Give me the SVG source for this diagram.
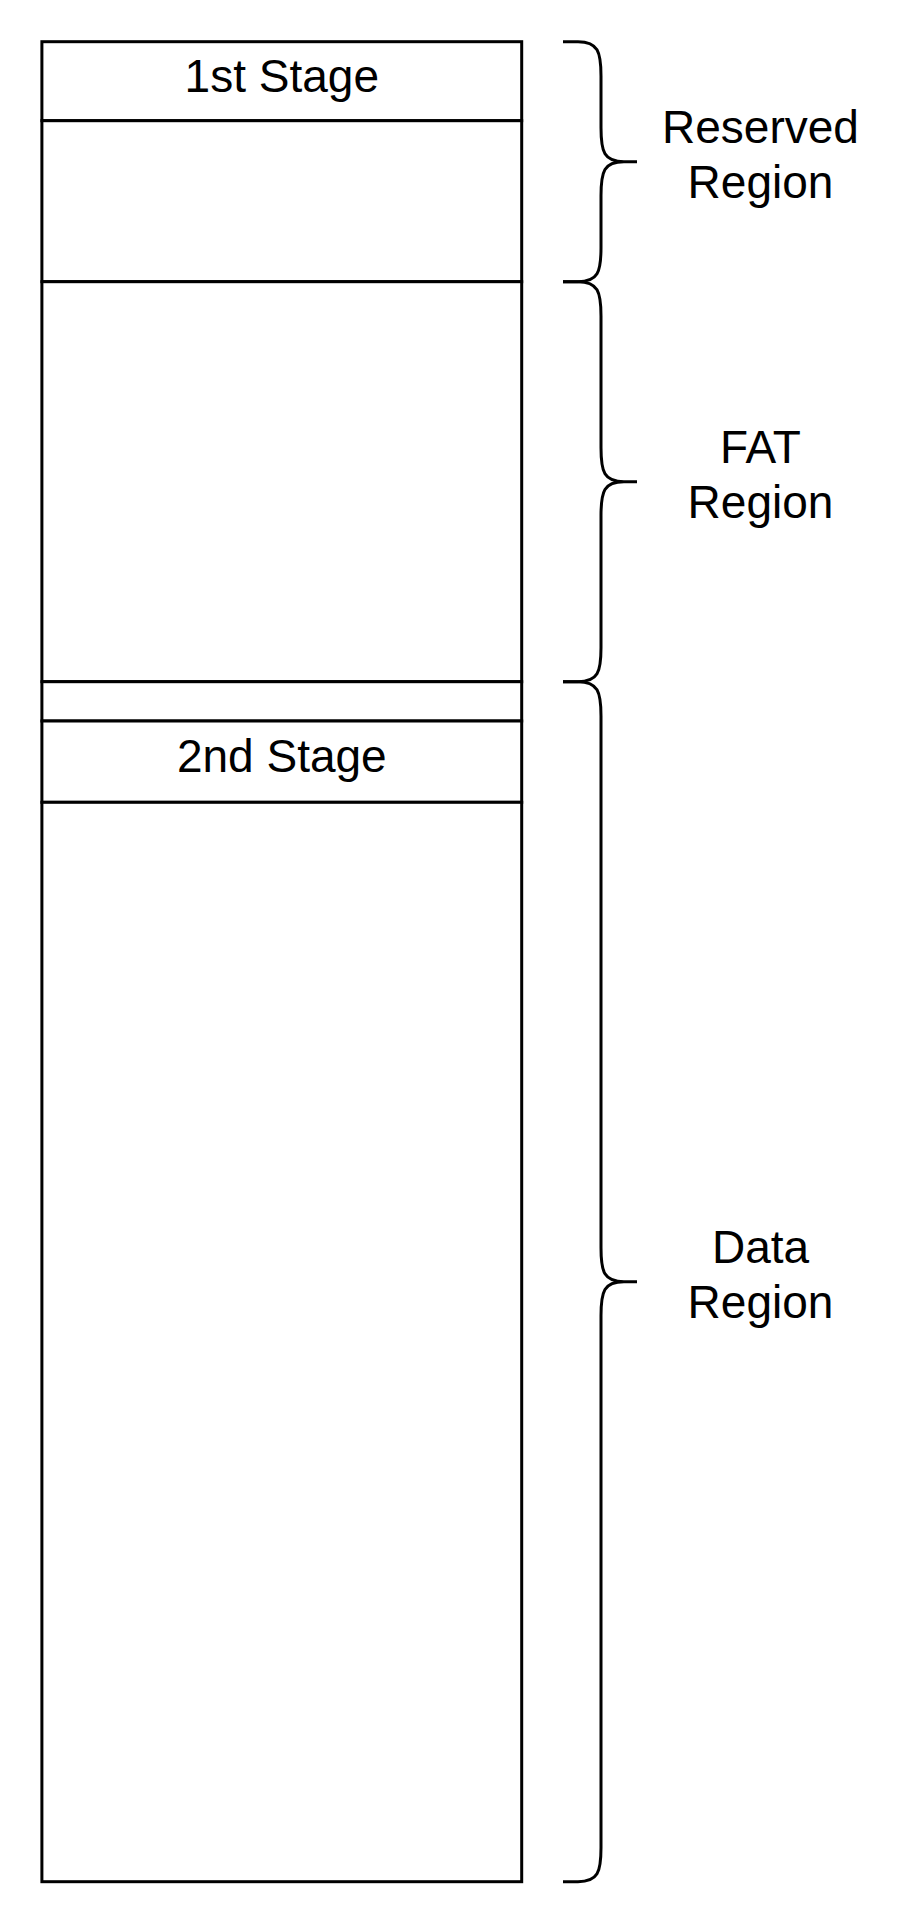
<svg xmlns="http://www.w3.org/2000/svg" width="924" height="1928" viewBox="0 0 924 1928">
<style>
.box{fill:#ffffff;stroke:#000000;stroke-width:3}
.brace{fill:none;stroke:#000000;stroke-width:3;stroke-linejoin:round}
.lbl{font-family:"Liberation Sans",Arial,Helvetica,sans-serif;font-size:46px;fill:#000000;text-anchor:middle}
</style>
<rect x="0" y="0" width="924" height="1928" fill="#ffffff"/>
<g id="stage1">
<rect class="box" x="41.9" y="41.7" width="479.8" height="79"/>
<text class="lbl" x="281.8" y="91.7">1st Stage</text>
</g>
<g id="reserved-rest">
<rect class="box" x="41.9" y="120.7" width="479.8" height="161"/>
</g>
<g id="fat">
<rect class="box" x="41.9" y="281.7" width="479.8" height="400"/>
</g>
<g id="gap">
<rect class="box" x="41.9" y="681.7" width="479.8" height="39.3"/>
</g>
<g id="stage2">
<rect class="box" x="41.9" y="721" width="479.8" height="81.3"/>
<text class="lbl" x="281.8" y="771.7">2nd Stage</text>
</g>
<g id="data">
<rect class="box" x="41.9" y="802.3" width="479.8" height="1079.4"/>
</g>
<g id="brace-reserved">
<path class="brace" d="M563,41.7 H578 C598,41.7 601,52 601,76 V127.7 C601,152 604,161.7 624,161.7 H637 M624,161.7 C604,161.7 601,171 601,195.7 V247.7 C601,272 598,281.7 578,281.7 H563"/>
<text class="lbl" x="760.5" y="143.3">Reserved</text>
<text class="lbl" x="760.5" y="198.3">Region</text>
</g>
<g id="brace-fat">
<path class="brace" d="M563,281.7 H578 C598,281.7 601,292 601,316 V447.7 C601,472 604,481.7 624,481.7 H637 M624,481.7 C604,481.7 601,491 601,515.7 V647.7 C601,672 598,681.7 578,681.7 H563"/>
<text class="lbl" x="760.5" y="463.3">FAT</text>
<text class="lbl" x="760.5" y="518.3">Region</text>
</g>
<g id="brace-data">
<path class="brace" d="M563,681.7 H578 C598,681.7 601,692 601,716 V1247.7 C601,1272 604,1281.7 624,1281.7 H637 M624,1281.7 C604,1281.7 601,1291 601,1315.7 V1847.7 C601,1872 598,1881.7 578,1881.7 H563"/>
<text class="lbl" x="760.5" y="1263.3">Data</text>
<text class="lbl" x="760.5" y="1318.3">Region</text>
</g>
</svg>
